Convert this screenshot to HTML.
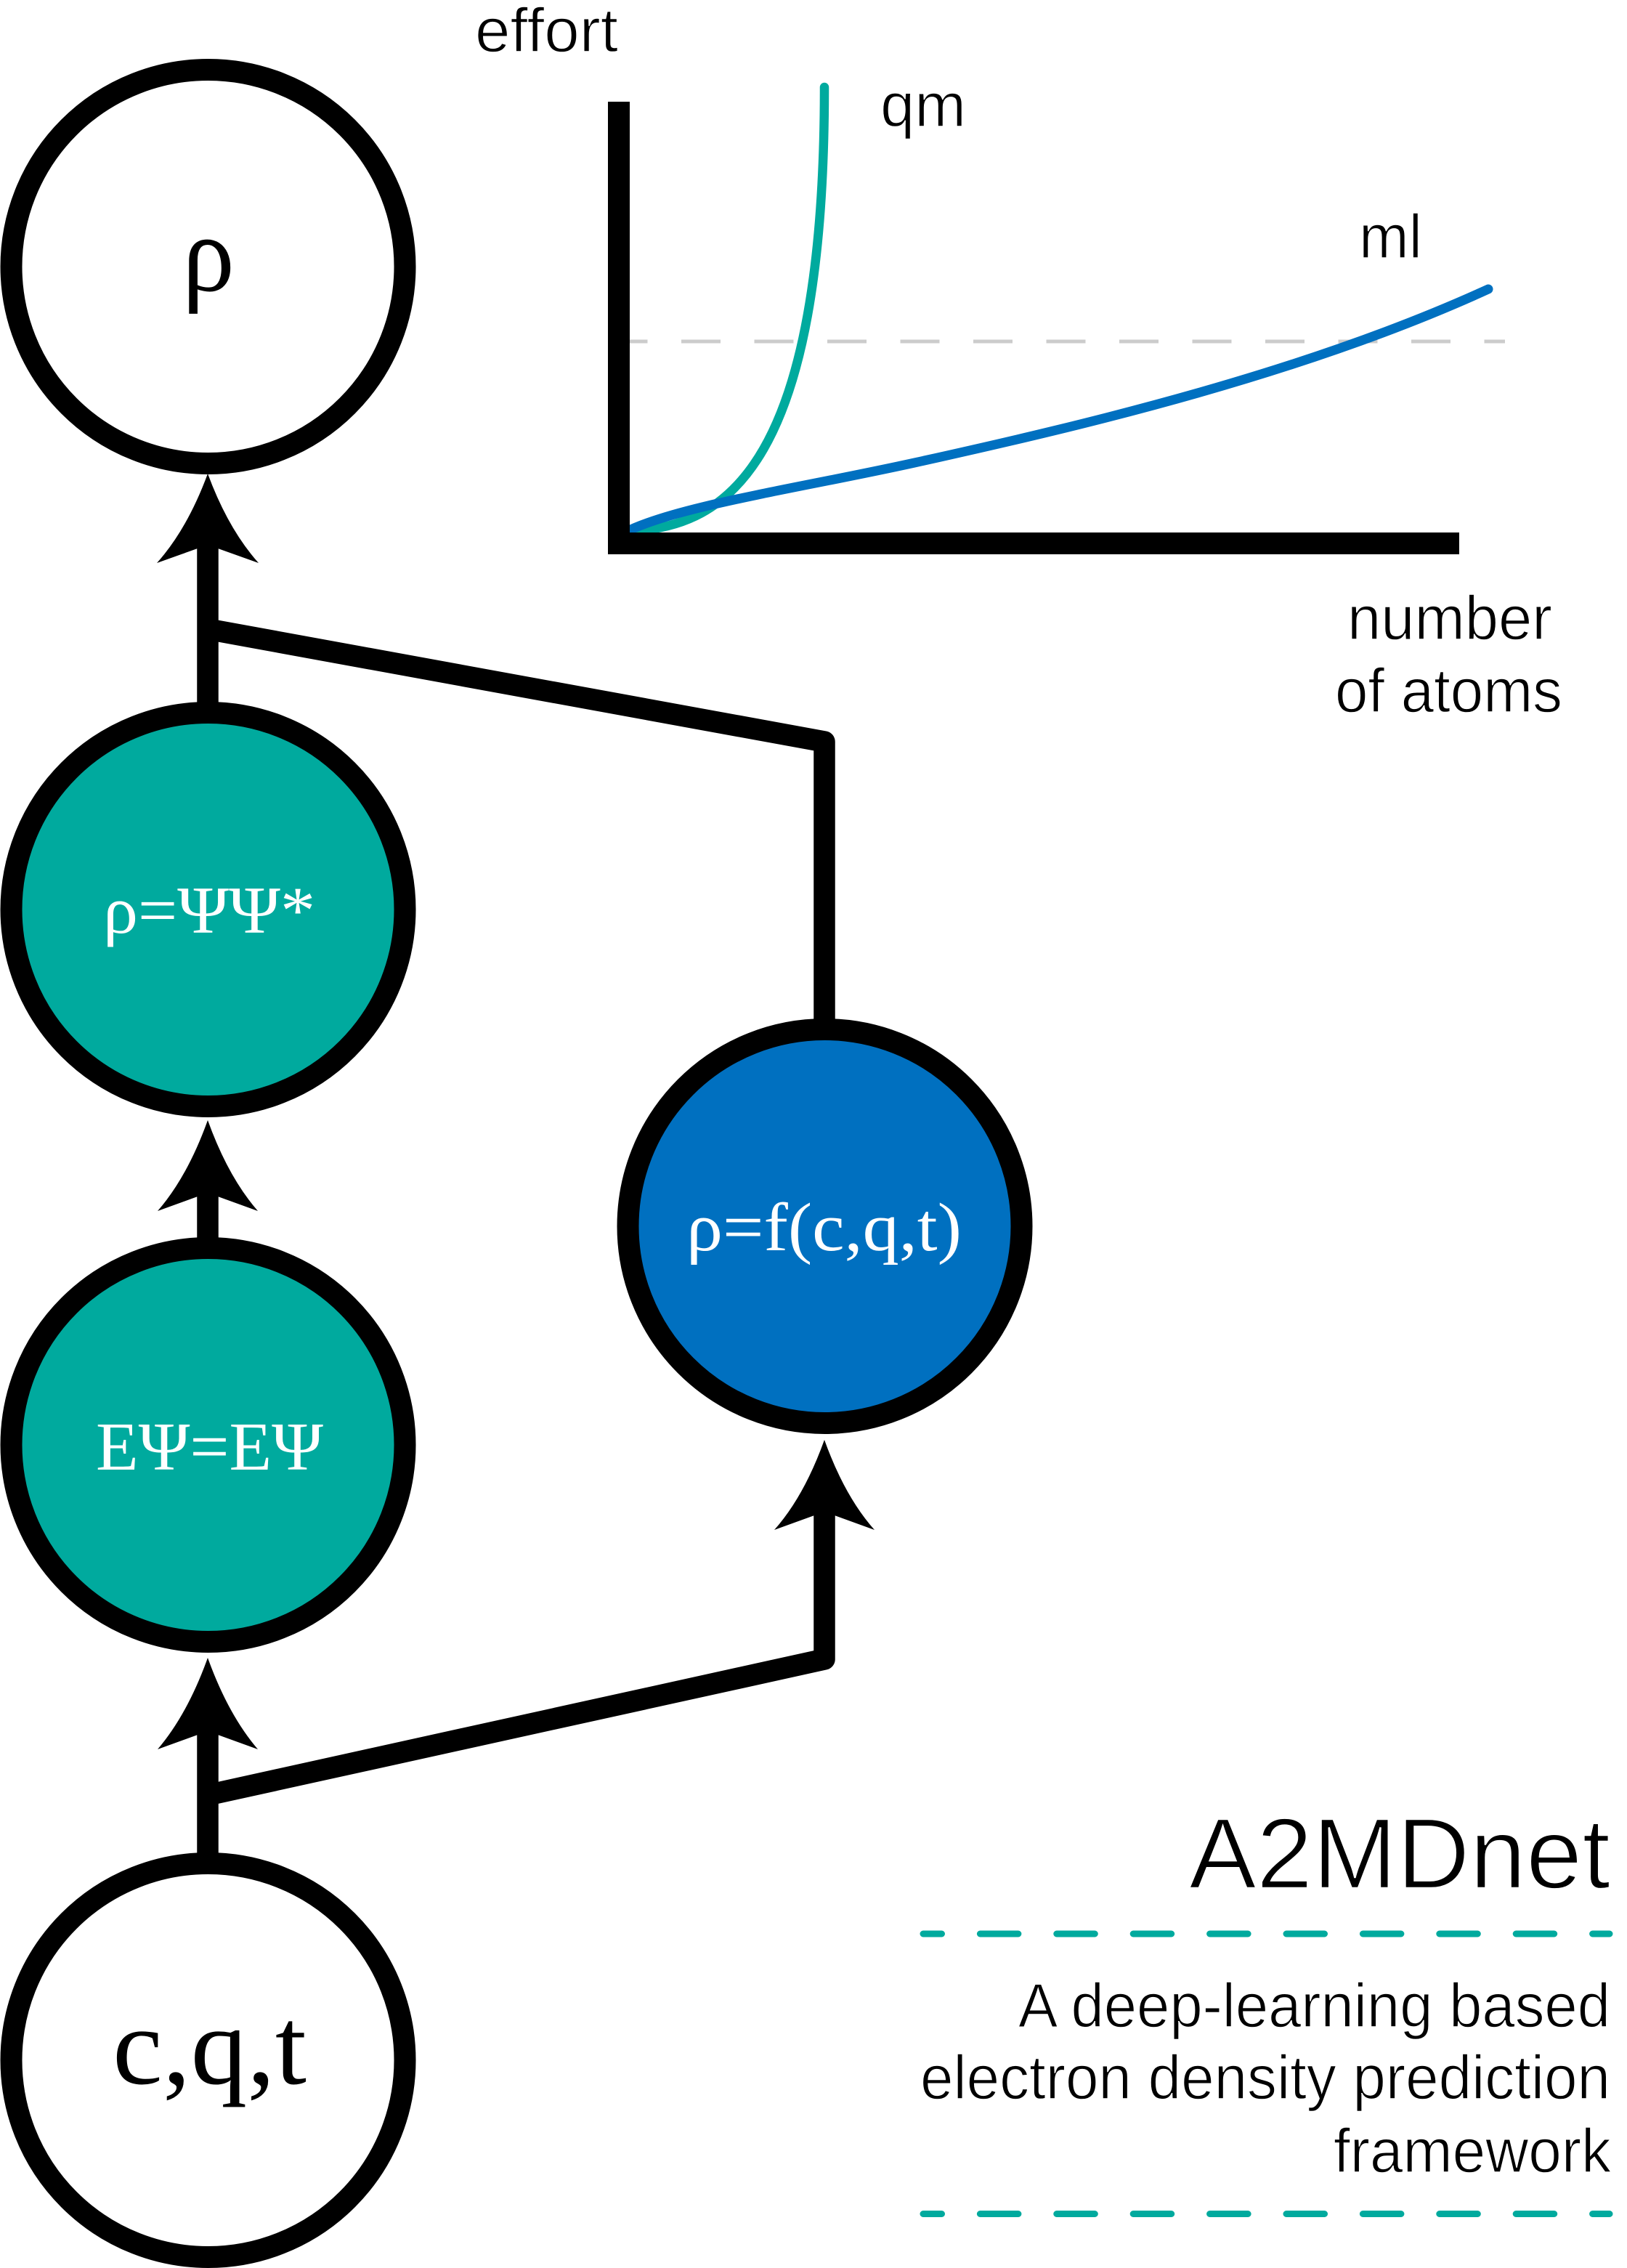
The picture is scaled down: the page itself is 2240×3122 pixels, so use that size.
<!DOCTYPE html>
<html>
<head>
<meta charset="utf-8">
<style>
html,body{margin:0;padding:0;background:#fff;}
svg{display:block;}
.s{font-family:"Liberation Sans",sans-serif;fill:#000;stroke:#fff;stroke-width:1.4px;}
.m{font-family:"Liberation Serif",serif;}
</style>
</head>
<body>
<svg xmlns="http://www.w3.org/2000/svg" width="2240" height="3122" viewBox="0 0 2240 3122">
<rect width="2240" height="3122" fill="#fff"/>

<!-- chart -->
<line x1="837.5" y1="470" x2="2072" y2="470" stroke="#cccccc" stroke-width="5" stroke-dasharray="54 46.5"/>
<path d="M869 731 C1000 725 1135 640 1135 120" fill="none" stroke="#00aa9e" stroke-width="12.5" stroke-linecap="round"/>
<path d="M860 733 C930 697 1100 672 1259 637 C1500 584 1800 512 2049 398" fill="none" stroke="#0070c0" stroke-width="13" stroke-linecap="round"/>
<path d="M852 140 V748 H2009" fill="none" stroke="#000" stroke-width="30"/>

<!-- connectors -->
<path d="M286 866 L1135 1021 L1135 1410" fill="none" stroke="#000" stroke-width="29.5" stroke-linejoin="round"/>
<path d="M286 2471 L1135 2284 L1135 2050" fill="none" stroke="#000" stroke-width="29.5" stroke-linejoin="round"/>
<line x1="286" y1="700" x2="286" y2="975" stroke="#000" stroke-width="29.5"/>
<line x1="286" y1="1600" x2="286" y2="1710" stroke="#000" stroke-width="29.5"/>
<line x1="286" y1="2340" x2="286" y2="2560" stroke="#000" stroke-width="29.5"/>

<!-- arrowheads -->
<path d="M286 652 Q258 728 216 775 L286 750 L356 775 Q314 728 286 652Z" fill="#000"/>
<path d="M286 1542 Q258 1620 217 1667 L286 1642 L355 1667 Q314 1620 286 1542Z" fill="#000"/>
<path d="M286 2282 Q258 2360 217 2408 L286 2383 L355 2408 Q314 2360 286 2282Z" fill="#000"/>
<path d="M1135 1982 Q1107 2060 1066 2106 L1135 2081 L1204 2106 Q1163 2060 1135 1982Z" fill="#000"/>

<!-- circles -->
<circle cx="286.5" cy="367" r="271" fill="#fff" stroke="#000" stroke-width="30"/>
<circle cx="286.5" cy="1252" r="271" fill="#00aa9e" stroke="#000" stroke-width="30"/>
<circle cx="286.5" cy="1989" r="271" fill="#00aa9e" stroke="#000" stroke-width="30"/>
<circle cx="286.5" cy="2836" r="271" fill="#fff" stroke="#000" stroke-width="30"/>
<circle cx="1135.5" cy="1688" r="271" fill="#0070c0" stroke="#000" stroke-width="30"/>

<!-- math labels -->
<text class="m" x="251" y="400" font-size="150" textLength="72" lengthAdjust="spacingAndGlyphs" fill="#000">ρ</text>
<text class="m" x="142" y="1284" font-size="92" textLength="292" lengthAdjust="spacingAndGlyphs" fill="#fff">ρ=ΨΨ*</text>
<text class="m" x="132" y="2023" font-size="94" textLength="313" lengthAdjust="spacingAndGlyphs" fill="#fff">EΨ=EΨ</text>
<text class="m" x="945" y="1721" font-size="94" textLength="379" lengthAdjust="spacingAndGlyphs" fill="#fff">ρ=f(c,q,t)</text>
<text class="m" x="155" y="2868" font-size="152" textLength="267" lengthAdjust="spacingAndGlyphs" fill="#000">c,q,t</text>

<!-- chart labels -->
<text class="s" x="654" y="71" font-size="85" textLength="197" lengthAdjust="spacingAndGlyphs">effort</text>
<text class="s" x="1212" y="174" font-size="85" textLength="118" lengthAdjust="spacingAndGlyphs">qm</text>
<text class="s" x="1871" y="355" font-size="85" textLength="87" lengthAdjust="spacingAndGlyphs">ml</text>
<text class="s" x="1855" y="880" font-size="85" textLength="282" lengthAdjust="spacingAndGlyphs">number</text>
<text class="s" x="1838" y="980" font-size="85" textLength="313" lengthAdjust="spacingAndGlyphs">of atoms</text>

<!-- title block -->
<text class="s" x="1637" y="2599" font-size="138" textLength="580" lengthAdjust="spacingAndGlyphs" style="stroke-width:2.4px">A2MDnet</text>
<line x1="1271" y1="2662" x2="2216" y2="2662" stroke="#00aa9e" stroke-width="9" stroke-linecap="round" stroke-dasharray="52.5 52.9" stroke-dashoffset="27"/>
<text class="s" x="1402" y="2790" font-size="85" textLength="815" lengthAdjust="spacingAndGlyphs">A deep-learning based</text>
<text class="s" x="1267" y="2889" font-size="85" textLength="950" lengthAdjust="spacingAndGlyphs">electron density prediction</text>
<text class="s" x="1836" y="2990" font-size="85" textLength="382" lengthAdjust="spacingAndGlyphs">framework</text>
<line x1="1271" y1="3047.5" x2="2216" y2="3047.5" stroke="#00aa9e" stroke-width="9" stroke-linecap="round" stroke-dasharray="52.5 52.9" stroke-dashoffset="27"/>
</svg>
</body>
</html>
